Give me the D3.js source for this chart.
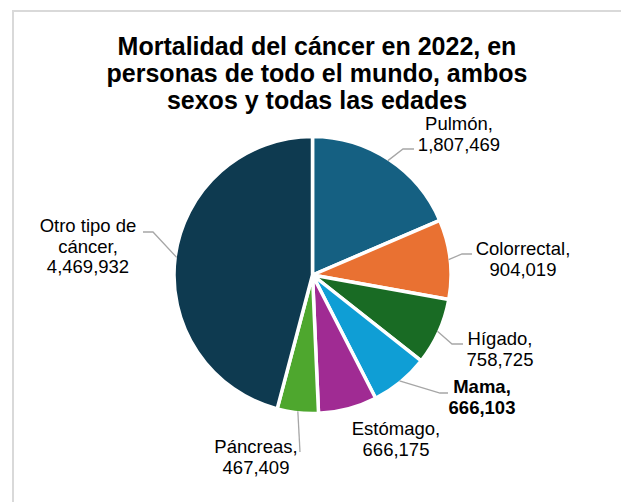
<!DOCTYPE html>
<html>
<head>
<meta charset="utf-8">
<script src="https://cdn.jsdelivr.net/npm/d3@7"></script>
<style>
  html, body { margin: 0; padding: 0; background: #fff; }
  svg text { font-family: "Liberation Sans", Arial, sans-serif; }
</style>
</head>
<body>
<svg id="chart" width="621" height="502"></svg>
<script>
// Cancer deaths worldwide, 2022 (both sexes, all ages)
const categories = ["Pulmón", "Colorrectal", "Hígado", "Mama", "Estómago", "Páncreas", "Otro tipo de cáncer"];
const deaths = [1807469, 904019, 758725, 666103, 666175, 467409, 4469932];
const sliceColors = ["#156082", "#e97132", "#196b24", "#0f9ed5", "#a02b93", "#4ea72e", "#0e3a50"];
const labelNames = [["Pulmón,"], ["Colorrectal,"], ["Hígado,"], ["Mama,"], ["Estómago,"], ["Páncreas,"], ["Otro tipo de", "cáncer,"]];
const titleLines = ["Mortalidad del cáncer en 2022, en", "personas de todo el mundo, ambos", "sexos y todas las edades"];

// Label placement: text centre, first baseline, leader end point and elbow offset
const labelLayout = [
  { x: 459, y: 130, bold: false, leader: { x: 414, y: 149, elbow: -11 } },
  { x: 523, y: 255, bold: false, leader: { x: 472, y: 254, elbow: -10 } },
  { x: 500, y: 345, bold: false, leader: { x: 463, y: 344, elbow: -11 } },
  { x: 482, y: 393, bold: true,  leader: { x: 448, y: 393, elbow: -8 } },
  { x: 396, y: 435, bold: false, leader: null },
  { x: 256, y: 453, bold: false, leader: { x: 300, y: 452, elbow: 0 } },
  { x: 88,  y: 232, bold: false, leader: { x: 143, y: 232, elbow: 10 } }
];

const data = categories.map((c, i) => ({ name: c, value: deaths[i], color: sliceColors[i], lines: labelNames[i], layout: labelLayout[i] }));

const svg = d3.select("#chart");
const cx = 312.5, cy = 275, radius = 138.5;
const fmt = d3.format(",");

// chart frame
svg.append("rect")
  .attr("x", 13).attr("y", 11)
  .attr("width", 700).attr("height", 600)
  .attr("fill", "none")
  .attr("stroke", "#d9d9d9")
  .attr("stroke-width", 2);

// title
const title = svg.append("text")
  .attr("text-anchor", "middle")
  .attr("font-size", 25)
  .attr("font-weight", "bold")
  .attr("fill", "#000");
titleLines.forEach((t, i) => {
  title.append("tspan").attr("x", 317).attr("y", 55 + i * 27).text(t);
});

const pie = d3.pie().value(d => d.value).sort(null);
const arc = d3.arc().innerRadius(0).outerRadius(radius);
const edgeArc = d3.arc().innerRadius(radius - 1.5).outerRadius(radius - 1.5);
const arcs = pie(data);

const g = svg.append("g").attr("transform", `translate(${cx},${cy})`);

g.selectAll("path.slice")
  .data(arcs)
  .join("path")
  .attr("class", "slice")
  .attr("d", arc)
  .attr("fill", d => d.data.color)
  .attr("stroke", "#fff")
  .attr("stroke-width", 3.5)
  .attr("stroke-linejoin", "round");

// leader lines from slice edge to label
svg.append("g")
  .selectAll("polyline")
  .data(arcs.filter(d => d.data.layout.leader))
  .join("polyline")
  .attr("fill", "none")
  .attr("stroke", "#a6a6a6")
  .attr("stroke-width", 1.3)
  .attr("points", d => {
    const mid = (d.startAngle + d.endAngle) / 2;
    const [ex, ey] = edgeArc.centroid({ startAngle: mid, endAngle: mid });
    const L = d.data.layout.leader;
    const pts = [[cx + ex, cy + ey]];
    if (L.elbow !== 0) pts.push([L.x + L.elbow, L.y]);
    pts.push([L.x, L.y]);
    return pts.map(p => p.join(",")).join(" ");
  });

// data labels
const labels = svg.append("g")
  .selectAll("text")
  .data(arcs)
  .join("text")
  .attr("text-anchor", "middle")
  .attr("font-size", 18.5)
  .attr("font-weight", d => d.data.layout.bold ? "bold" : "normal")
  .attr("fill", "#000");

labels.each(function(d) {
  const t = d3.select(this);
  const L = d.data.layout;
  const lines = d.data.lines.concat([fmt(d.data.value)]);
  lines.forEach((s, i) => {
    t.append("tspan").attr("x", L.x).attr("y", L.y + i * 20.7).text(s);
  });
});
</script>
</body>
</html>
